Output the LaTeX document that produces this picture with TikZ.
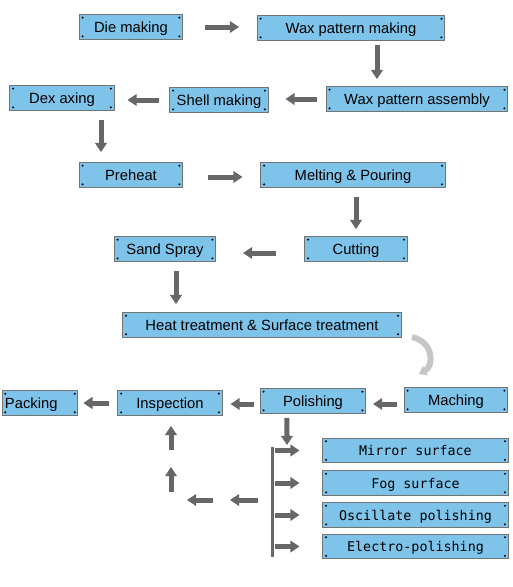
\documentclass[tikz,border=0pt]{standalone}
\usepackage{fontspec}
\setmainfont{Liberation Sans}
\newfontfamily\monofont{DejaVu Sans Mono}
\usepackage{tikz}
\usetikzlibrary{arrows.meta,positioning,calc}
\definecolor{boxfill}{HTML}{7DC3EA}
\definecolor{arrgray}{HTML}{676767}

\begin{document}
\begin{tikzpicture}[
  x=0.025cm,y=-0.025cm,
  font=\fontsize{10.5}{12}\selectfont,
  stage/.style={draw=black!55,line width=0.7pt,fill=boxfill,minimum height=6.2mm,inner sep=1pt,
    text height=3.0mm,text depth=0.4mm,
    path picture={
      \fill[black] ([shift={(2.2pt,-2.2pt)}]path picture bounding box.north west) circle (0.8pt);
      \fill[black] ([shift={(-2.2pt,-2.2pt)}]path picture bounding box.north east) circle (0.8pt);
      \fill[black] ([shift={(2.2pt,2.2pt)}]path picture bounding box.south west) circle (0.8pt);
      \fill[black] ([shift={(-2.2pt,2.2pt)}]path picture bounding box.south east) circle (0.8pt);
    }},
  mstage/.style={stage,font=\monofont\fontsize{9.5}{11}\selectfont,minimum width=4.625cm},
  arr/.style={draw=arrgray,line width=1.25mm,-{Triangle[length=2.3mm,width=2.9mm]}},
  bar/.style={draw=arrgray,line width=0.75mm}
]
\useasboundingbox (0,0) rectangle (513,587);

% casting line
\node[stage,minimum width=2.575cm] (die)   at (131,27)  {Die making};
\node[stage,minimum width=4.675cm] (wax)   at (351,28)  {Wax pattern making};
\node[stage,minimum width=4.525cm] (asm)   at (417,99)  {Wax pattern assembly};
\node[stage,minimum width=2.45cm]  (shell) at (219,100) {Shell making};
\node[stage,minimum width=2.6cm]   (dex)   at (62,98)   {Dex axing};
\node[stage,minimum width=2.575cm] (pre)   at (131,175) {Preheat};
\node[stage,minimum width=4.6cm]   (melt)  at (353,175) {Melting \& Pouring};
\node[stage,minimum width=2.55cm]  (cut)   at (356,249) {Cutting};
\node[stage,minimum width=2.525cm] (sand)  at (165,249) {Sand Spray};
\node[stage,minimum width=6.95cm]  (heat)  at (262,325) {Heat treatment \& Surface treatment};

% finishing line
\node[stage,minimum width=2.575cm] (mach)  at (456,400) {Maching};
\node[stage,minimum width=2.625cm] (pol)   at (313,401) {Polishing};
\node[stage,minimum width=2.6cm]   (insp)  at (170,403) {Inspection};
\node[stage,text width=1.75cm,align=left,inner xsep=2pt] (pack) at (40,403) {Packing};

\node[mstage] (mirror) at (415.5,450.5) {Mirror surface};
\node[mstage] (fog)    at (415.5,483)   {Fog surface};
\node[mstage] (osc)    at (415.5,515)   {Oscillate polishing};
\node[mstage] (elec)   at (415.5,546.5) {Electro-polishing};

\draw[arr,shorten <=0.55cm,shorten >=0.45cm] (die.east) -- (die.east -| wax.west);
\draw[arr,shorten <=0.1cm,shorten >=0.175cm] ([xshift=0.65cm]wax.south) -- ([xshift=0.65cm]wax.south |- asm.north);
\draw[arr,shorten <=0.225cm,shorten >=0.425cm] (asm.west) -- (asm.west -| shell.east);
\draw[arr,shorten <=0.25cm,shorten >=0.325cm] (shell.west) -- (shell.west -| dex.east);
\draw[arr,shorten <=0.225cm,shorten >=0.25cm] ([xshift=0.975cm]dex.south) -- ([xshift=0.975cm]dex.south |- pre.north);
\draw[arr,shorten <=0.625cm,shorten >=0.45cm] ([yshift=-0.05cm]pre.east) -- ([yshift=-0.05cm]pre.east -| melt.west);
\draw[arr,shorten <=0.225cm,shorten >=0.175cm] (cut.north |- melt.south) -- (cut.north);
\draw[arr,shorten <=0.7cm,shorten >=0.675cm] ([yshift=-0.1cm]cut.west) -- ([yshift=-0.1cm]cut.west -| sand.east);
\draw[arr,shorten <=0.225cm,shorten >=0.2cm] ([xshift=0.275cm]sand.south) -- ([xshift=0.275cm]sand.south |- heat.north);

% turn to machining
\coordinate (cv1) at (412,337);
\coordinate (cv2) at (419,374);
\draw[draw=gray!45,line width=1.5mm,-{Triangle[length=1.8mm,width=2.6mm]}] (cv1) .. controls (434,342) and (434,366) .. (cv2);

\draw[arr,shorten <=0.175cm,shorten >=0.175cm] ([yshift=-0.1cm]mach.west) -- ([yshift=-0.1cm]mach.west -| pol.east);
\draw[arr,shorten <=0.15cm,shorten >=0.2cm] ([yshift=-0.075cm]pol.west) -- ([yshift=-0.075cm]pol.west -| insp.east);
\draw[arr,shorten <=0.2cm,shorten >=0.125cm] (insp.west) -- (insp.west -| pack.east);

% surface options
\coordinate (split) at (287,448);
\coordinate (bartop) at (272,447);
\coordinate (barbot) at (272,557);
\draw[arr,shorten <=0.1cm,shorten >=0.075cm] ([xshift=-0.65cm]pol.south) -- (split);
\draw[bar] (bartop) -- (barbot);
\foreach \n in {mirror,fog,osc,elec}
  \draw[arr,shorten <=0.075cm,shorten >=0.575cm] (bartop |- \n.west) -- (\n.west);

% back to inspection
\coordinate (r0) at (272,500);
\coordinate (r1) at (222,500);
\coordinate (r2) at (171,500);
\coordinate (u1) at (171,458);
\draw[arr,shorten <=0.35cm,shorten >=0.2cm] (r0) -- (r1);
\draw[arr,shorten <=0.225cm,shorten >=0.4cm] (r1) -- (r2);
\draw[arr,shorten <=0.2cm,shorten >=0.225cm] (r2) -- (u1);
\draw[arr,shorten <=0.2cm,shorten >=0.25cm] (u1) -- (u1 |- insp.south);
\end{tikzpicture}
\end{document}
